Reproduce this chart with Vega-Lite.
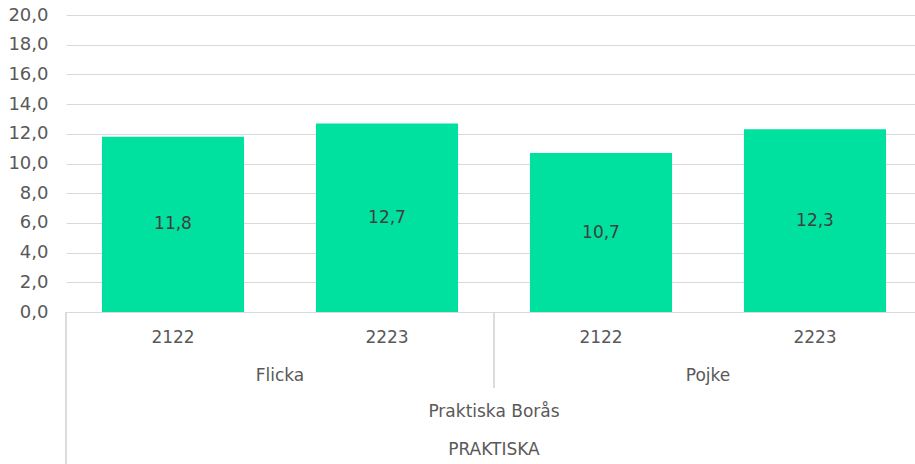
{
  "$schema": "https://vega.github.io/schema/vega-lite/v6.json",
  "autosize": "none",
  "width": 849,
  "height": 297,
  "padding": {"left": 66, "top": 15, "right": 0, "bottom": 152},
  "background": "white",
  "config": {
    "view": {"stroke": null},
    "font": "DejaVu Sans",
    "locale": {"number": {"decimal": ",", "thousands": " ", "grouping": [3], "currency": ["", " kr"]}},
    "axisY": {
      "title": null, "values": [0, 2, 4, 6, 8, 10, 12, 14, 16, 18, 20], "format": ".1f",
      "labelOverlap": false, "tickCount": 11,
      "domain": false, "ticks": false, "gridColor": "#d9d9d9", "gridWidth": 1,
      "labelFont": "DejaVu Sans", "labelFontSize": 18, "labelColor": "#595959", "labelPadding": 18
    }
  },
  "data": {"values": [
    {"program": "PRAKTISKA", "skola": "Praktiska Borås", "kon": "Flicka", "ar": "2122", "key": "Flicka|2122", "v": 11.8},
    {"program": "PRAKTISKA", "skola": "Praktiska Borås", "kon": "Flicka", "ar": "2223", "key": "Flicka|2223", "v": 12.7},
    {"program": "PRAKTISKA", "skola": "Praktiska Borås", "kon": "Pojke", "ar": "2122", "key": "Pojke|2122", "v": 10.7},
    {"program": "PRAKTISKA", "skola": "Praktiska Borås", "kon": "Pojke", "ar": "2223", "key": "Pojke|2223", "v": 12.3}
  ]},
  "encoding": {
    "x": {
      "field": "key", "type": "nominal", "sort": null,
      "scale": {"range": [0, 856], "paddingInner": 0, "paddingOuter": 0},
      "axis": {
        "title": null, "labelAngle": 0, "ticks": false, "tickSize": 0,
        "domainColor": "#d9d9d9", "domainWidth": 1,
        "labelExpr": "split(datum.value, '|')[1]",
        "labelFont": "DejaVu Sans", "labelFontSize": 17, "labelColor": "#595959",
        "labelBaseline": "middle", "labelPadding": 25
      }
    }
  },
  "layer": [
    {
      "mark": {"type": "bar", "color": "#00E09E", "width": {"band": 0.664}},
      "encoding": {
        "y": {
          "field": "v", "type": "quantitative",
          "scale": {"domain": [0, 20], "nice": false, "zero": true},
          "axis": {"values": [0, 2, 4, 6, 8, 10, 12, 14, 16, 18, 20]}
        }
      }
    },
    {
      "transform": [{"calculate": "datum.v / 2", "as": "mid"}],
      "mark": {"type": "text", "font": "DejaVu Sans", "fontSize": 17, "color": "#404040", "baseline": "middle"},
      "encoding": {
        "y": {"field": "mid", "type": "quantitative", "axis": {"values": [0, 2, 4, 6, 8, 10, 12, 14, 16, 18, 20]}},
        "text": {"field": "v", "type": "quantitative", "format": ".1f"}
      }
    },
    {
      "mark": {"type": "rule", "color": "#d9d9d9", "strokeWidth": 1},
      "encoding": {
        "x": {"datum": "Flicka|2122", "bandPosition": 0},
        "y": {"datum": 0, "axis": {"values": [0, 2, 4, 6, 8, 10, 12, 14, 16, 18, 20]}},
        "y2": {"datum": -10.6}
      }
    },
    {
      "mark": {"type": "rule", "color": "#d9d9d9", "strokeWidth": 1},
      "encoding": {
        "x": {"datum": "Pojke|2122", "bandPosition": 0},
        "y": {"datum": 0, "axis": {"values": [0, 2, 4, 6, 8, 10, 12, 14, 16, 18, 20]}},
        "y2": {"datum": -5.12}
      }
    },
    {
      "transform": [{"filter": "datum.ar == '2223'"}],
      "mark": {"type": "text", "font": "DejaVu Sans", "fontSize": 17, "color": "#595959", "baseline": "middle", "dy": 64},
      "encoding": {
        "x": {"field": "key", "type": "nominal", "bandPosition": 0},
        "y": {"datum": 0, "axis": {"values": [0, 2, 4, 6, 8, 10, 12, 14, 16, 18, 20]}},
        "text": {"field": "kon"}
      }
    },
    {
      "transform": [{"filter": "datum.key == 'Pojke|2122'"}],
      "mark": {"type": "text", "font": "DejaVu Sans", "fontSize": 17, "color": "#595959", "baseline": "middle", "dy": 100},
      "encoding": {
        "x": {"field": "key", "type": "nominal", "bandPosition": 0},
        "y": {"datum": 0, "axis": {"values": [0, 2, 4, 6, 8, 10, 12, 14, 16, 18, 20]}},
        "text": {"field": "skola"}
      }
    },
    {
      "transform": [{"filter": "datum.key == 'Pojke|2122'"}],
      "mark": {"type": "text", "font": "DejaVu Sans", "fontSize": 17, "color": "#595959", "baseline": "middle", "dy": 138},
      "encoding": {
        "x": {"field": "key", "type": "nominal", "bandPosition": 0},
        "y": {"datum": 0, "axis": {"values": [0, 2, 4, 6, 8, 10, 12, 14, 16, 18, 20]}},
        "text": {"field": "program"}
      }
    }
  ]
}
